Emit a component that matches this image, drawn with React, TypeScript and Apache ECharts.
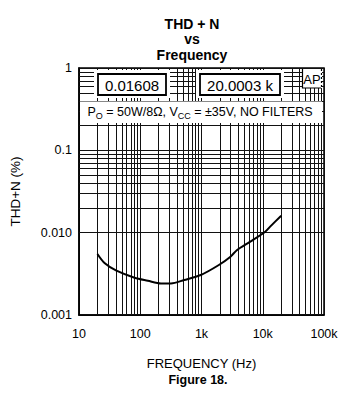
import React, { useEffect, useRef } from "react";
import * as echarts from "echarts";

const freqHz = [20, 26.4, 40.8, 80.7, 133, 218, 317, 521, 971, 1920, 2970, 3810, 6260, 10960, 13200, 20000];
const thdPct = [0.00551, 0.00424, 0.00345, 0.00284, 0.00261, 0.00242, 0.00242, 0.00266, 0.00306, 0.00405, 0.00511, 0.00616, 0.00778, 0.01028, 0.01183, 0.01608];

const xTickValues = [10, 100, 1000, 10000, 100000];
const xTickLabels = ["10", "100", "1k", "10k", "100k"];
const yTickValues = [0.001, 0.01, 0.1, 1];
const yTickLabels = ["0.001", "0.010", "0.1", "1"];

const titleLines = ["THD + N", "vs", "Frequency"];

const xGridValues: number[] = [];
for (const d of [10, 100, 1000, 10000]) for (let k = 2; k <= 9; k++) xGridValues.push(k * d);
const yGridValues: number[] = [];
for (const d of [0.001, 0.01, 0.1]) for (let k = 2; k <= 9; k++) yGridValues.push(+(k * d).toPrecision(3));

const FONT = '"Liberation Sans", Arial, sans-serif';

function labelFor(values: number[], labels: string[], v: number) {
  for (let i = 0; i < values.length; i++) {
    if (Math.abs(Math.log10(v) - Math.log10(values[i])) < 1e-6) return labels[i];
  }
  return "";
}

export default function App() {
  const ref = useRef<HTMLDivElement>(null);
  useEffect(() => {
    if (!ref.current) return;
    const chart = echarts.init(ref.current, undefined, { renderer: "svg" });
    const gridLine = { type: "solid", color: "#111", width: 1 };
    chart.setOption({
      animation: false,
      backgroundColor: "#fff",
      grid: {
        left: 77,
        top: 68,
        width: 247,
        height: 247,
        show: true,
        borderColor: "#000",
        borderWidth: 1.5,
        backgroundColor: "transparent",
      },
      xAxis: {
        type: "log",
        logBase: 10,
        min: 10,
        max: 100000,
        name: "FREQUENCY (Hz)",
        nameLocation: "middle",
        nameGap: 42,
        nameTextStyle: { fontFamily: FONT, fontSize: 13, color: "#000" },
        axisLine: { show: true, lineStyle: { color: "#000", width: 1.5 } },
        axisTick: { show: false },
        splitLine: { show: true, lineStyle: gridLine },
        axisLabel: {
          margin: 12,
          fontFamily: FONT,
          fontSize: 12.5,
          color: "#000",
          formatter: (v: number) => labelFor(xTickValues, xTickLabels, v),
        },
      },
      yAxis: {
        type: "log",
        logBase: 10,
        min: 0.001,
        max: 1,
        name: "THD+N (%)",
        nameLocation: "middle",
        nameGap: 57,
        nameTextStyle: { fontFamily: FONT, fontSize: 13.5, color: "#000" },
        axisLine: { show: true, lineStyle: { color: "#000", width: 1.5 } },
        axisTick: { show: false },
        splitLine: { show: true, lineStyle: gridLine },
        axisLabel: {
          margin: 7,
          fontFamily: FONT,
          fontSize: 12.5,
          color: "#000",
          formatter: (v: number) => labelFor(yTickValues, yTickLabels, v),
        },
      },
      series: [
        {
          type: "line",
          data: freqHz.map((f, i) => [f, thdPct[i]]),
          showSymbol: false,
          smooth: 0.3,
          lineStyle: { color: "#000", width: 2 },
          z: 3,
          markLine: {
            silent: true,
            symbol: ["none", "none"],
            label: { show: false },
            lineStyle: gridLine,
            z: 1,
            data: [
              ...xGridValues.map((v) => ({ xAxis: v })),
              ...yGridValues.map((v) => ({ yAxis: v })),
            ],
          },
        },
      ],
      graphic: [
        ...titleLines.map((t, i) => ({
          type: "text",
          x: 192,
          y: 23.5 + i * 15.6,
          style: {
            text: t,
            font: 'bold 14px "Liberation Sans", Arial, sans-serif',
            textAlign: "center",
            textVerticalAlign: "middle",
            fill: "#000",
          },
        })),
        {
          type: "text",
          x: 198,
          y: 380,
          style: {
            text: "Figure 18.",
            font: 'bold 12.5px "Liberation Sans", Arial, sans-serif',
            textAlign: "center",
            textVerticalAlign: "middle",
            fill: "#000",
          },
        },
        // box 1
        { type: "rect", shape: { x: 94, y: 70, width: 76, height: 28 }, style: { fill: "#fff" }, z: 10 },
        { type: "rect", shape: { x: 98, y: 74, width: 68, height: 21 }, style: { fill: "#fff", stroke: "#000", lineWidth: 1.8 }, z: 11 },
        {
          type: "text", x: 132, y: 85, z: 12,
          style: { text: "0.01608", font: '15px "Liberation Sans", Arial, sans-serif', textAlign: "center", textVerticalAlign: "middle", fill: "#000" },
        },
        // box 2
        { type: "rect", shape: { x: 196, y: 70, width: 88, height: 28 }, style: { fill: "#fff" }, z: 10 },
        { type: "rect", shape: { x: 200, y: 74, width: 80, height: 21 }, style: { fill: "#fff", stroke: "#000", lineWidth: 1.8 }, z: 11 },
        {
          type: "text", x: 240, y: 85, z: 12,
          style: { text: "20.0003 k", font: '15px "Liberation Sans", Arial, sans-serif', textAlign: "center", textVerticalAlign: "middle", fill: "#000" },
        },
        // AP box
        { type: "rect", shape: { x: 302, y: 69, width: 20, height: 19 }, style: { fill: "#fff" }, z: 10 },
        { type: "polyline", shape: { points: [[302.5, 69], [302.5, 88], [321, 88]] }, style: { stroke: "#000", lineWidth: 1.2, fill: "none" }, z: 11 },
        { type: "line", shape: { x1: 321.5, y1: 69, x2: 321.5, y2: 88 }, style: { stroke: "#000", lineWidth: 1.2, lineDash: [2, 2] }, z: 11 },
        {
          type: "text", x: 312, y: 79, z: 12,
          style: { text: "AP", font: '13px "Liberation Sans", Arial, sans-serif', textAlign: "center", textVerticalAlign: "middle", fill: "#000" },
        },
        // legend band
        { type: "rect", shape: { x: 80, y: 101.5, width: 242, height: 21.5 }, style: { fill: "#fff" }, z: 10 },
        {
          type: "text", x: 200, y: 112, z: 12,
          style: {
            text: "{m|P}{s|O}{m| = 50W/8Ω, V}{s|CC}{m| = ±35V, NO FILTERS}",
            textAlign: "center",
            textVerticalAlign: "middle",
            fill: "#000",
            rich: {
              m: { fontFamily: FONT, fontSize: 12.5, fill: "#000", color: "#000" },
              s: { fontFamily: FONT, fontSize: 9, fill: "#000", color: "#000", padding: [8, 0, 0, 0] },
            },
          },
        },
      ],
    });
    return () => chart.dispose();
  }, []);
  return <div ref={ref} style={{ position: "absolute", left: 0, top: 0, width: 352, height: 395 }} />;
}
